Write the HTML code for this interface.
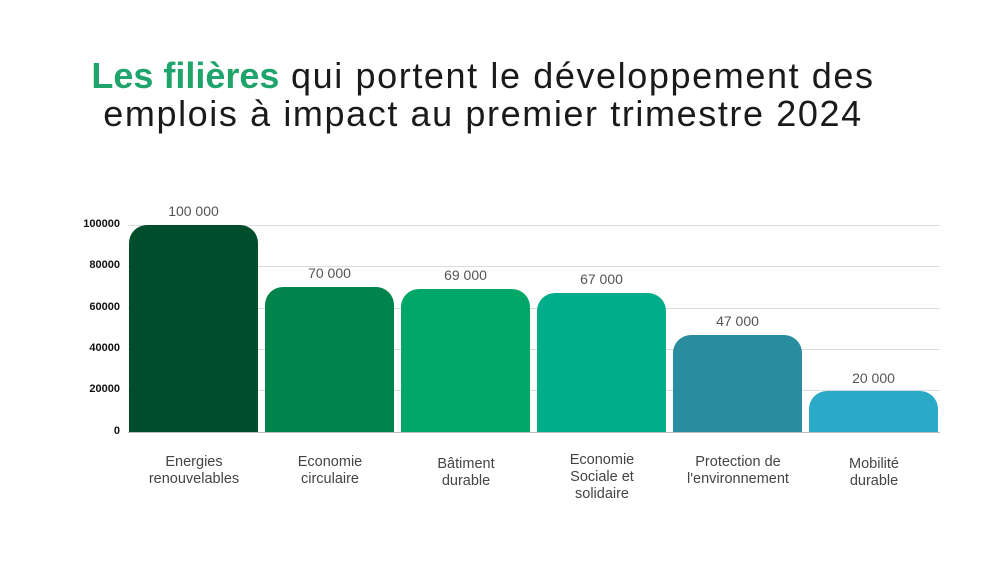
<!DOCTYPE html><html><head><style>
body{margin:0;width:1000px;height:564px;background:#fff;font-family:"Liberation Sans",sans-serif;position:relative;overflow:hidden}
.t{position:absolute;left:-17px;width:1000px;text-align:center;font-size:36px;color:#1a1a1a;letter-spacing:1.6px;line-height:38px;white-space:nowrap}
.g{position:absolute;left:128px;width:812px;height:1px;background:#dcdcdc}
.y{position:absolute;left:60px;width:60px;text-align:right;font-size:11px;font-weight:bold;color:#111}
.b{position:absolute;width:129px;bottom:132px;border-radius:18px 18px 0 0}
.v{position:absolute;width:129px;text-align:center;font-size:14px;color:#555}
.c{position:absolute;width:150px;text-align:center;font-size:14.5px;color:#444;line-height:17px;top:454px}
</style></head><body>
<div class="t" style="top:57px"><b style="color:#1fa46b;letter-spacing:0px">Les filières</b> qui portent le développement des</div>
<div class="t" style="top:95px">emplois à impact au premier trimestre 2024</div>
<div class="g" style="top:225px"></div><div class="g" style="top:266px"></div><div class="g" style="top:308px"></div><div class="g" style="top:349px"></div><div class="g" style="top:390px"></div><div class="g" style="top:432px;background:#bbb"></div>
<div class="y" style="top:218px">100000</div><div class="y" style="top:259px">80000</div><div class="y" style="top:301px">60000</div><div class="y" style="top:342px">40000</div><div class="y" style="top:383px">20000</div><div class="y" style="top:425px">0</div>
<div class="b" style="left:129px;height:207px;background:#004d2c"></div>
<div class="b" style="left:265px;height:145px;background:#00844b"></div>
<div class="b" style="left:401px;height:143px;background:#00a766"></div>
<div class="b" style="left:537px;height:139px;background:#00ad8a"></div>
<div class="b" style="left:673px;height:97px;background:#2a8d9f"></div>
<div class="b" style="left:809px;height:41px;background:#2aaac6"></div>
<div class="v" style="left:129px;top:203px">100 000</div>
<div class="v" style="left:265px;top:265px">70 000</div>
<div class="v" style="left:401px;top:267px">69 000</div>
<div class="v" style="left:537px;top:271px">67 000</div>
<div class="v" style="left:673px;top:313px">47 000</div>
<div class="v" style="left:809px;top:370px">20 000</div>
<div class="c" style="left:119px">Energies<br>renouvelables</div>
<div class="c" style="left:255px">Economie<br>circulaire</div>
<div class="c" style="left:391px;top:456px">Bâtiment<br>durable</div>
<div class="c" style="left:527px;top:452px">Economie<br>Sociale et<br>solidaire</div>
<div class="c" style="left:663px">Protection de<br>l'environnement</div>
<div class="c" style="left:799px;top:456px">Mobilité<br>durable</div>
</body></html>
